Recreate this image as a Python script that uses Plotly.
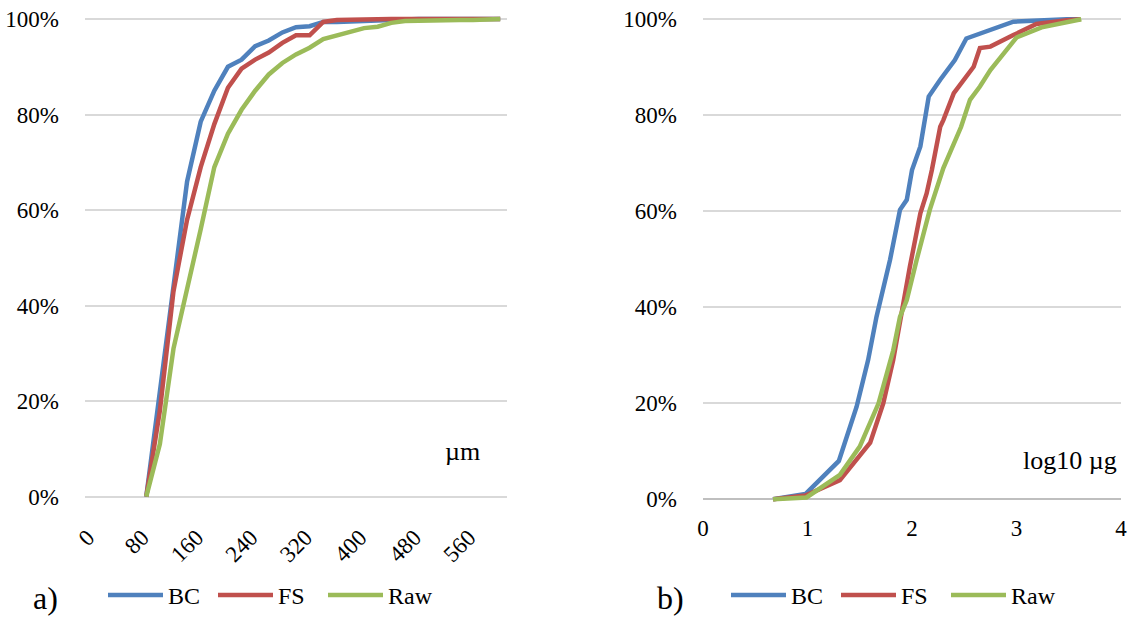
import plotly.graph_objects as go

# ---- Data: panel a) (size, µm) ----
size_um = [80, 100, 120, 140, 160, 180, 200, 220, 240, 260, 280, 300, 320, 340,
           360, 380, 400, 420, 440, 460, 480, 500, 520, 540, 560, 580, 600]
a_bc = [0, 22, 45, 66, 78.5, 85, 90, 91.5, 94.3, 95.5, 97.2, 98.3, 98.5, 99.4,
        99.4, 99.5, 99.6, 99.8, 100, 100, 100, 100, 100, 100, 100, 100, 100]
a_fs = [0, 18, 43, 58, 69, 78, 85.6, 89.6, 91.5, 93, 95, 96.6, 96.6, 99.4,
        99.8, 99.9, 99.9, 100, 100, 100, 100, 100, 100, 100, 100, 100, 100]
a_raw = [0, 11, 31, 43, 56, 69, 76, 81, 85, 88.4, 90.8, 92.6, 94, 95.8,
         96.6, 97.3, 98.1, 98.4, 99.2, 99.6, 99.7, 99.8, 99.8, 99.8, 99.8, 99.9, 100]
a_ticks = [0, 80, 160, 240, 320, 400, 480, 560]

# ---- Data: panel b) (log10 µg) ----
b_bc_x = [0.67, 0.98, 1.30, 1.47, 1.58, 1.66, 1.79, 1.885, 1.95, 2.0, 2.08, 2.11,
          2.16, 2.27, 2.41, 2.52, 2.56, 2.68, 2.97, 3.48, 3.61]
b_bc_y = [0, 1.1, 8.0, 19.3, 29, 38, 49.9, 60.3, 62.4, 68.6, 73.5, 77.6,
          83.9, 87.4, 91.5, 96.0, 96.3, 97.4, 99.5, 100, 100]
b_fs_x = [0.67, 0.98, 1.31, 1.60, 1.725, 1.82, 1.98, 2.08, 2.14, 2.19, 2.27, 2.30,
          2.40, 2.59, 2.65, 2.75, 2.97, 3.19, 3.48, 3.61]
b_fs_y = [0, 0.8, 4.0, 11.8, 20, 29, 48.5, 59.6, 63.7, 68.6, 77.6, 79,
          84.6, 90.1, 94, 94.3, 96.7, 99.0, 99.8, 100]
b_raw_x = [0.67, 0.99, 1.31, 1.50, 1.68, 1.82, 1.885, 1.95, 2.045, 2.17, 2.30,
           2.47, 2.555, 2.65, 2.75, 3.0, 3.24, 3.47, 3.62]
b_raw_y = [0, 0.4, 5.1, 11, 20, 31, 38, 41.5, 49.9, 60.3, 69, 77.6,
           83.2, 86, 89.4, 96.2, 98.3, 99.2, 100]
b_ticks = [0, 1, 2, 3, 4]

y_ticks = [0, 0.2, 0.4, 0.6, 0.8, 1.0]

BLUE, RED, GREEN = "#4f81bd", "#c0504d", "#9bbb59"
FONT = "Liberation Serif"
LW = 4.5

def pct(v):
    return [x / 100 for x in v]

fig = go.Figure()
for name, ys, col in [("BC", a_bc, BLUE), ("FS", a_fs, RED), ("Raw", a_raw, GREEN)]:
    fig.add_trace(go.Scatter(x=size_um, y=pct(ys), mode="lines", name=name,
                             line=dict(color=col, width=LW), xaxis="x", yaxis="y",
                             legend="legend"))
for name, xs, ys, col in [("BC", b_bc_x, b_bc_y, BLUE), ("FS", b_fs_x, b_fs_y, RED),
                          ("Raw", b_raw_x, b_raw_y, GREEN)]:
    fig.add_trace(go.Scatter(x=xs, y=pct(ys), mode="lines", name=name,
                             line=dict(color=col, width=LW), xaxis="x2", yaxis="y2",
                             legend="legend2"))

W, H = 1134, 618
tickfont = dict(family=FONT, size=23, color="black")
yax = dict(range=[-0.012, 1.012], tickvals=y_ticks, tickformat=".0%", showgrid=True,
           gridcolor="#d9d9d9", gridwidth=1.5, zeroline=True, zerolinewidth=1.5,
           showline=False, ticks="", tickfont=tickfont, ticklabelstandoff=25,
           automargin=False)
legfont = dict(family=FONT, size=24, color="black")
NB = "\u00a0"

fig.update_layout(
    width=W, height=H, margin=dict(l=0, r=0, t=0, b=0),
    paper_bgcolor="white", plot_bgcolor="white",
    font=dict(family=FONT, size=23, color="black"),
    xaxis=dict(domain=[85 / W, 507 / W], range=[-10, 610], tickvals=a_ticks,
               ticktext=[str(t) + NB for t in a_ticks],
               tickangle=-45, showgrid=False, zeroline=False, showline=False,
               ticks="", tickfont=tickfont, anchor="y", ticklabelstandoff=12,
               automargin=False),
    yaxis=dict(domain=[1 - 502.4 / H, 1 - 13.3 / H], anchor="x",
               zerolinecolor="#d9d9d9", **yax),
    xaxis2=dict(domain=[703 / W, 1121 / W], range=[0, 4], tickvals=b_ticks,
                showgrid=False, zeroline=False, showline=False, ticks="",
                tickfont=tickfont, anchor="y2", ticklabelstandoff=7,
                automargin=False),
    yaxis2=dict(domain=[1 - 505.1 / H, 1 - 13.5 / H], anchor="x2",
                zerolinecolor="#bfbfbf", **yax),
    legend=dict(orientation="h", x=103 / W, y=0, xanchor="left",
                yanchor="bottom", font=legfont, itemwidth=55, entrywidth=40,
                bgcolor="rgba(0,0,0,0)"),
    legend2=dict(orientation="h", x=726 / W, y=0, xanchor="left",
                 yanchor="bottom", font=legfont, itemwidth=55, entrywidth=40,
                 bgcolor="rgba(0,0,0,0)"),
    annotations=[
        dict(text="µm", x=573, y=0.095, xref="x", yref="y", xanchor="right",
             yanchor="middle", showarrow=False, font=dict(family=FONT, size=26)),
        dict(text="log10 µg", x=3.98, y=0.08, xref="x2", yref="y2",
             xanchor="right", yanchor="middle", showarrow=False,
             font=dict(family=FONT, size=26)),
        dict(text="a)", x=31 / W, y=1 - 598 / H, xref="paper", yref="paper",
             xanchor="left", yanchor="middle", showarrow=False,
             font=dict(family=FONT, size=32)),
        dict(text="b)", x=655 / W, y=1 - 598 / H, xref="paper", yref="paper",
             xanchor="left", yanchor="middle", showarrow=False,
             font=dict(family=FONT, size=32)),
    ],
)

fig.write_html("out.html")
